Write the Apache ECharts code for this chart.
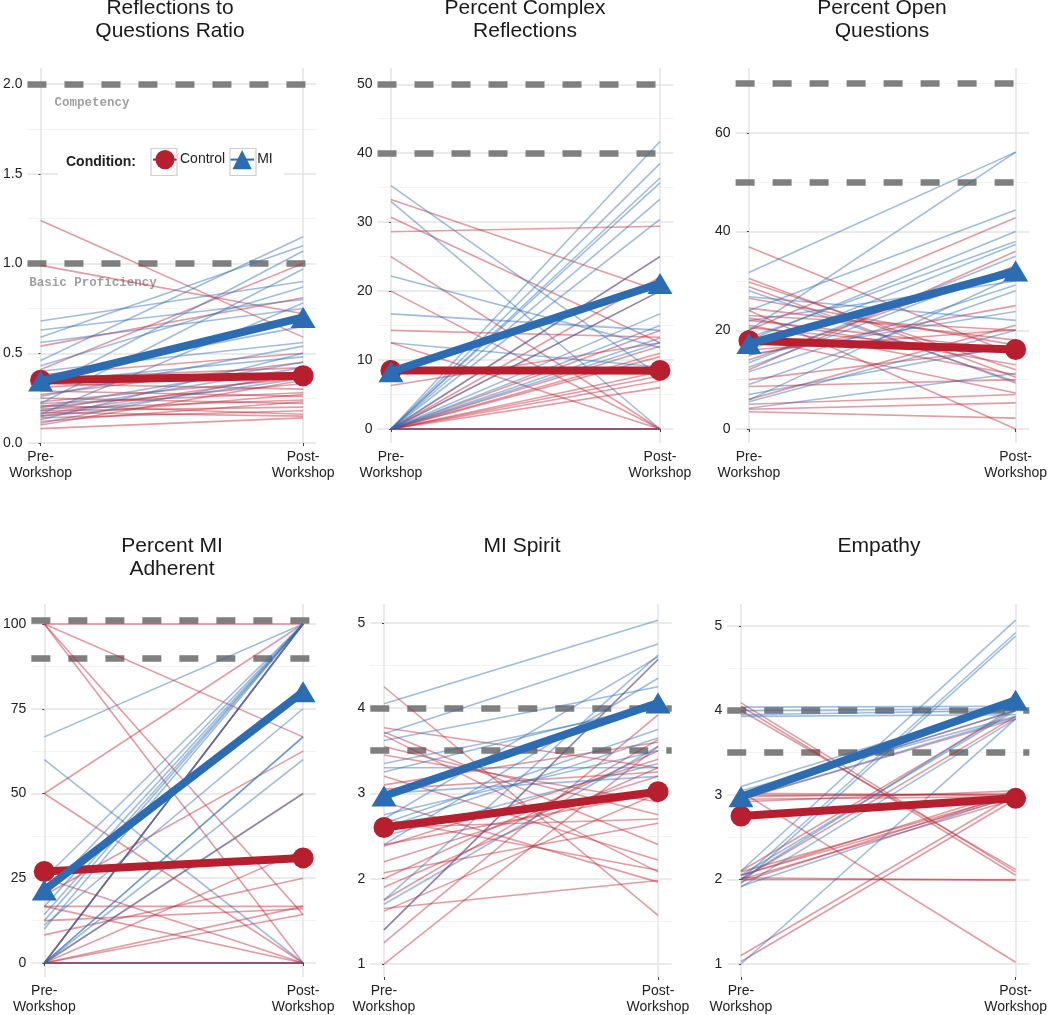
<!DOCTYPE html>
<html><head><meta charset="utf-8">
<script src="https://cdn.jsdelivr.net/npm/echarts@6/dist/echarts.min.js"></script>
<style>html,body{margin:0;padding:0;background:#fff}#c{width:1050px;height:1015px}</style>
</head><body><div id="c"></div>
<script>
// ---------- data ----------
const stages = ['Pre-\nWorkshop', 'Post-\nWorkshop'];
const conditions = ['Control', 'MI'];
const legendTitle = 'Condition:';
const titles = ['Reflections to\nQuestions Ratio', 'Percent Complex\nReflections', 'Percent Open\nQuestions',
                'Percent MI\nAdherent', 'MI Spirit', 'Empathy'];

// Panel 1: Reflections to Questions Ratio
const p1CtrlPre  = [1.24, 0.99, 0.54, 0.41, 0.38, 0.36, 0.33, 0.31, 0.29, 0.27, 0.25, 0.23, 0.22, 0.21, 0.20, 0.19, 0.18, 0.17, 0.16, 0.15, 0.14, 0.12, 0.10, 0.08];
const p1CtrlPost = [0.59, 0.72, 0.81, 1.00, 0.50, 0.42, 0.30, 0.39, 0.26, 0.45, 0.22, 0.36, 0.28, 0.16, 0.33, 0.24, 0.20, 0.15, 0.38, 0.27, 0.18, 0.23, 0.35, 0.14];
const p1MiPre    = [0.68, 0.63, 0.59, 0.56, 0.46, 0.43, 0.40, 0.37, 0.34, 0.30, 0.26, 0.22, 0.20, 0.18, 0.16, 0.15, 0.13, 0.11];
const p1MiPost   = [0.90, 0.80, 1.10, 0.75, 1.15, 0.87, 0.56, 0.65, 0.48, 1.07, 0.54, 0.97, 0.45, 0.42, 0.78, 0.36, 0.50, 0.40];
const p1CtrlMean = [0.35, 0.375];
const p1MiMean   = [0.345, 0.70];
const p1Thresholds = [2.0, 1.0];
const p1ThresholdNames = ['Competency', 'Basic Proficiency'];
const p1Major = [0, 0.5, 1, 1.5, 2];
const p1Minor = [0.25, 0.75, 1.25, 1.75];

// Panel 2: Percent Complex Reflections
const p2CtrlPre  = [33.3, 30.7, 28.6, 25.0, 20.0, 14.3, 12.5, 8.3, 6.3, 0, 0, 0, 0, 0, 0, 0, 0, 0, 0, 0, 0, 0, 0, 0];
const p2CtrlPost = [20.0, 12.5, 29.4, 0, 0, 13.3, 0, 8.0, 12.5, 25.0, 22.0, 20.0, 14.3, 10.5, 8.3, 7.7, 7.0, 6.0, 12.0, 0, 0, 0, 0, 11.0];
const p2MiPre    = [35.3, 33.0, 22.2, 16.7, 12.5, 0, 0, 0, 0, 0, 0, 0, 0, 0, 0, 0, 0, 0];
const p2MiPost   = [7.7, 0, 11.8, 14.3, 9.0, 41.7, 38.5, 36.4, 35.7, 33.3, 30.4, 25.0, 20.0, 16.7, 15.0, 13.2, 12.5, 0];
const p2CtrlMean = [8.5, 8.5];
const p2MiMean   = [8.3, 21.1];
const p2Thresholds = [50, 40];
const p2Major = [0, 10, 20, 30, 40, 50];
const p2Minor = [5, 15, 25, 35, 45];

// Panel 3: Percent Open Questions
const p3CtrlPre  = [36.9, 29.8, 28.8, 26.5, 24.0, 23.0, 22.0, 21.0, 20.0, 18.5, 16.0, 24.5, 12.0, 10.0, 8.6, 6.0, 4.0, 3.5, 20.5, 15.0, 22.5, 30.5, 14.0, 5.0];
const p3CtrlPost = [15.0, 12.0, 9.3, 17.0, 0, 20.0, 16.0, 11.0, 42.8, 7.3, 20.1, 18.0, 36.0, 16.5, 10.0, 21.0, 5.3, 2.2, 15.5, 25.0, 13.0, 10.5, 33.0, 7.0];
const p3MiPre    = [31.7, 20.0, 26.8, 24.0, 22.0, 18.0, 16.0, 13.4, 11.6, 5.9, 5.5, 4.2, 28.0, 15.0, 12.5, 9.0, 7.0, 18.5];
const p3MiPost   = [56.1, 56.1, 22.0, 44.4, 30.0, 40.0, 37.4, 35.0, 29.2, 31.0, 20.0, 11.3, 9.6, 23.8, 33.0, 28.0, 17.0, 38.0];
const p3CtrlMean = [17.9, 16.1];
const p3MiMean   = [17.3, 32.0];
const p3Thresholds = [70, 50];
const p3Major = [0, 20, 40, 60];
const p3Minor = [10, 30, 50, 70];

// Panel 4: Percent MI Adherent
const p4CtrlPre  = [100, 100, 100, 100, 50, 50, 25, 20, 16.7, 16.7, 12.5, 8.3, 0, 0, 0, 0, 0, 0, 0, 0, 0, 0];
const p4CtrlPost = [100, 66.7, 0, 14.3, 0, 100, 0, 62.5, 16.7, 0, 16.0, 25.0, 100, 50.0, 14.3, 16.7, 0, 0, 0, 0, 100, 33.3];
const p4MiPre    = [66.7, 60, 14.3, 12.5, 11.2, 0, 0, 0, 0, 0, 20, 25, 0, 16.7, 0, 10];
const p4MiPost   = [100, 0, 100, 100, 75, 100, 100, 66.7, 60, 0, 100, 100, 50, 100, 66.7, 100];
const p4CtrlMean = [27, 31];
const p4MiMean   = [21.5, 80];
const p4Thresholds = [101, 90];
const p4Major = [0, 25, 50, 75, 100];
const p4Minor = [12.5, 37.5, 62.5, 87.5];

// Panel 5: MI Spirit
const p5CtrlPre  = [4.25, 3.77, 3.72, 3.68, 3.45, 3.2, 3.05, 2.9, 2.6, 2.4, 2.38, 2.07, 2.0, 1.75, 1.65, 1.62, 1.4, 1.25, 1.0, 2.7, 3.1, 2.2, 3.55, 1.9];
const p5CtrlPost = [1.57, 3.3, 2.4, 2.08, 2.9, 2.22, 3.25, 1.96, 2.7, 3.0, 3.4, 2.65, 3.5, 3.63, 1.98, 3.0, 4.57, 3.92, 3.55, 2.1, 3.6, 3.2, 2.75, 3.3];
const p5MiPre    = [4.05, 3.7, 3.62, 3.3, 3.25, 2.7, 2.65, 2.6, 2.4, 1.75, 1.7, 1.4, 3.35, 2.75, 2.5, 3.0];
const p5MiPost   = [5.03, 4.75, 4.25, 3.3, 4.05, 4.6, 3.75, 3.65, 4.35, 4.62, 3.55, 4.57, 4.0, 3.5, 3.35, 3.2];
const p5CtrlMean = [2.6, 3.02];
const p5MiMean   = [2.97, 4.06];
const p5Thresholds = [4.0, 3.5];
const p5Major = [1, 2, 3, 4, 5];
const p5Minor = [1.5, 2.5, 3.5, 4.5];

// Panel 6: Empathy
const p6CtrlPre  = [4.09, 4.05, 4.0, 3.04, 3.0, 2.98, 2.95, 2.92, 1.03, 2.0, 2.02, 2.09, 2.05, 1.97, 2.0, 2.1, 3.0, 2.95, 1.1, 2.0, 3.02, 2.05];
const p6CtrlPost = [2.09, 2.05, 2.12, 1.02, 3.0, 3.02, 2.98, 3.05, 2.95, 2.0, 1.99, 3.0, 2.98, 3.02, 3.93, 4.02, 4.0, 3.9, 3.0, 2.95, 3.0, 3.05];
const p6MiPre    = [4.04, 4.0, 3.95, 3.93, 3.1, 3.0, 2.95, 2.1, 2.0, 1.95, 1.91, 1.0, 2.05, 1.92, 3.05, 2.0];
const p6MiPost   = [4.05, 4.02, 4.0, 3.95, 4.1, 4.0, 3.92, 5.07, 4.92, 4.88, 3.9, 3.9, 4.0, 3.0, 3.93, 4.05];
const p6CtrlMean = [2.75, 2.96];
const p6MiMean   = [2.98, 4.12];
const p6Thresholds = [4.0, 3.5];
const p6Major = [1, 2, 3, 4, 5];
const p6Minor = [1.5, 2.5, 3.5, 4.5];

// ---------- styling / layout ----------
const CTRL = '#B71F2E', MIC = '#2C6CB3';
const CTRL_T = 'rgba(190,35,52,0.45)', MI_T = 'rgba(44,108,179,0.45)';
const FONT = 'Liberation Sans, Arial, sans-serif';

const panels = [
  {title: titles[0], cPre: p1CtrlPre, cPost: p1CtrlPost, mPre: p1MiPre, mPost: p1MiPost, cMean: p1CtrlMean, mMean: p1MiMean,
   thr: p1Thresholds, major: p1Major, minor: p1Minor, dec: 1, yMin: 0, yMax: 2.09,
   grid: {left: 24.75, top: 68, width: 291.5, height: 375}, tx: 170, ty: -3,
   thrLabelAt: [[0.196, 1.897], [0.2, 0.891]]},
  {title: titles[1], cPre: p2CtrlPre, cPost: p2CtrlPost, mPre: p2MiPre, mPost: p2MiPost, cMean: p2CtrlMean, mMean: p2MiMean,
   thr: p2Thresholds, major: p2Major, minor: p2Minor, dec: 0, yMin: -2.03, yMax: 52.36,
   grid: {left: 377.5, top: 68, width: 295.9, height: 375}, tx: 525, ty: -3},
  {title: titles[2], cPre: p3CtrlPre, cPost: p3CtrlPost, mPre: p3MiPre, mPost: p3MiPost, cMean: p3CtrlMean, mMean: p3MiMean,
   thr: p3Thresholds, major: p3Major, minor: p3Minor, dec: 0, yMin: -2.84, yMax: 73.15,
   grid: {left: 735.6, top: 68, width: 294.8, height: 375}, tx: 882, ty: -3},
  {title: titles[3], cPre: p4CtrlPre, cPost: p4CtrlPost, mPre: p4MiPre, mPost: p4MiPost, cMean: p4CtrlMean, mMean: p4MiMean,
   thr: p4Thresholds, major: p4Major, minor: p4Minor, dec: 0, yMin: -4.13, yMax: 105.9,
   grid: {left: 30, top: 604, width: 286, height: 373}, tx: 172, ty: 534.5},
  {title: titles[4], cPre: p5CtrlPre, cPost: p5CtrlPost, mPre: p5MiPre, mPost: p5MiPost, cMean: p5CtrlMean, mMean: p5MiMean,
   thr: p5Thresholds, major: p5Major, minor: p5Minor, dec: 0, yMin: 0.848, yMax: 5.22,
   grid: {left: 370.3, top: 604, width: 301.4, height: 373}, tx: 522, ty: 534.5},
  {title: titles[5], cPre: p6CtrlPre, cPost: p6CtrlPost, mPre: p6MiPre, mPost: p6MiPost, cMean: p6CtrlMean, mMean: p6MiMean,
   thr: p6Thresholds, major: p6Major, minor: p6Minor, dec: 0, yMin: 0.846, yMax: 5.26,
   grid: {left: 727.25, top: 604, width: 302.5, height: 373}, tx: 879, ty: 534.5}
];

const option = {
  animation: false,
  backgroundColor: '#fff',
  grid: [], xAxis: [], yAxis: [], series: [],
  legend: {
    data: conditions.map(n => ({name: n})),
    left: 152, top: 150, itemWidth: 24, itemHeight: 24, itemGap: 4, padding: 0,
    selectedMode: false, z: 60,
    textStyle: {fontSize: 14, color: '#222', fontFamily: FONT, padding: [0, 0, 0, -2]}
  },
  graphic: []
};

panels.forEach((p, i) => {
  option.grid.push(Object.assign({containLabel: false}, p.grid));
  option.xAxis.push({
    gridIndex: i, type: 'value', min: -0.05, max: 1.05,
    axisLine: {show: false}, splitLine: {show: false},
    axisTick: {show: true, customValues: [0, 1], length: 3, lineStyle: {color: '#444'}},
    axisLabel: {customValues: [0, 1], formatter: v => stages[v < 0.5 ? 0 : 1],
      fontSize: 14, color: '#222', fontFamily: FONT, lineHeight: 16, margin: 6}
  });
  option.yAxis.push({
    gridIndex: i, type: 'value', min: p.yMin, max: p.yMax,
    axisLine: {show: false}, splitLine: {show: false},
    axisTick: {show: true, customValues: p.major, length: 2, lineStyle: {color: '#444'}},
    axisLabel: {customValues: p.major, formatter: v => Number(v).toFixed(p.dec),
      fontSize: 14, color: '#222', fontFamily: FONT, margin: 5}
  });
  // grid lines
  const gl = [];
  p.minor.forEach(v => gl.push({yAxis: v, lineStyle: {color: '#f3f3f3', width: 1, type: 'solid'}}));
  p.major.forEach(v => gl.push({yAxis: v, lineStyle: {color: '#e4e4e4', width: 1.5, type: 'solid'}}));
  [0, 1].forEach(v => gl.push({xAxis: v, lineStyle: {color: '#e4e4e4', width: 1.5, type: 'solid'}}));
  option.series.push({
    type: 'line', xAxisIndex: i, yAxisIndex: i, data: [], silent: true, z: 0,
    markLine: {silent: true, z: 0, symbol: ['none', 'none'], animation: false, label: {show: false}, data: gl}
  });
  // threshold dashed lines
  option.series.push({
    type: 'line', xAxisIndex: i, yAxisIndex: i, data: [], silent: true, z: 1,
    markLine: {silent: true, z: 1, symbol: ['none', 'none'], animation: false, label: {show: false},
      data: p.thr.map(v => ({yAxis: v, lineStyle: {color: '#7f7f7f', width: 6.5, type: [19, 18]}}))}
  });
  if (p.thrLabelAt) {
    option.series.push({
      type: 'scatter', xAxisIndex: i, yAxisIndex: i, symbolSize: 0, silent: true, z: 2,
      data: p.thrLabelAt.map((c, k) => ({value: c, name: p1ThresholdNames[k]})),
      label: {show: true, position: 'inside', formatter: '{b}', fontFamily: 'Liberation Mono, DejaVu Sans Mono, monospace',
        fontWeight: 'bold', fontSize: 12.5, color: '#8a8a8a'}
    });
  }
  // individual lines
  p.cPre.forEach((v, k) => option.series.push({
    type: 'line', xAxisIndex: i, yAxisIndex: i, data: [[0, v], [1, p.cPost[k]]],
    symbol: 'none', silent: true, z: 3, lineStyle: {width: 1.6, color: CTRL_T}
  }));
  p.mPre.forEach((v, k) => option.series.push({
    type: 'line', xAxisIndex: i, yAxisIndex: i, data: [[0, v], [1, p.mPost[k]]],
    symbol: 'none', silent: true, z: 3, lineStyle: {width: 1.6, color: MI_T}
  }));
  // means
  option.series.push({
    type: 'line', name: conditions[0], xAxisIndex: i, yAxisIndex: i,
    data: [[0, p.cMean[0]], [1, p.cMean[1]]], symbol: 'circle', symbolSize: 21, silent: true, z: 10,
    lineStyle: {width: 8, color: CTRL}, itemStyle: {color: CTRL}
  });
  option.series.push({
    type: 'line', name: conditions[1], xAxisIndex: i, yAxisIndex: i,
    data: [[0, p.mMean[0]], [1, p.mMean[1]]], symbol: 'triangle', symbolSize: [25, 21], silent: true, z: 11,
    lineStyle: {width: 8, color: MIC}, itemStyle: {color: MIC}
  });
  option.graphic.push({
    type: 'text', x: p.tx, y: p.ty, silent: true,
    style: {text: p.title, textAlign: 'center', textVerticalAlign: 'top', fill: '#1a1a1a',
      font: '21px ' + FONT, lineHeight: 23}
  });
});

// legend backdrop
option.graphic.push(
  {type: 'rect', shape: {x: 58, y: 146, width: 226, height: 31}, style: {fill: '#fff'}, z: 50, silent: true},
  {type: 'text', x: 66, y: 162, z: 51, silent: true,
   style: {text: legendTitle, textVerticalAlign: 'middle', fill: '#222', font: 'bold 14px ' + FONT}},
  {type: 'rect', shape: {x: 151, y: 148.5, width: 26, height: 27}, style: {fill: 'none', stroke: '#cfcfcf', lineWidth: 1.2}, z: 61, silent: true},
  {type: 'rect', shape: {x: 230, y: 148.5, width: 26, height: 27}, style: {fill: 'none', stroke: '#cfcfcf', lineWidth: 1.2}, z: 61, silent: true}
);

const chart = echarts.init(document.getElementById('c'), null, {renderer: 'canvas'});
chart.setOption(option);
</script>
</body></html>
